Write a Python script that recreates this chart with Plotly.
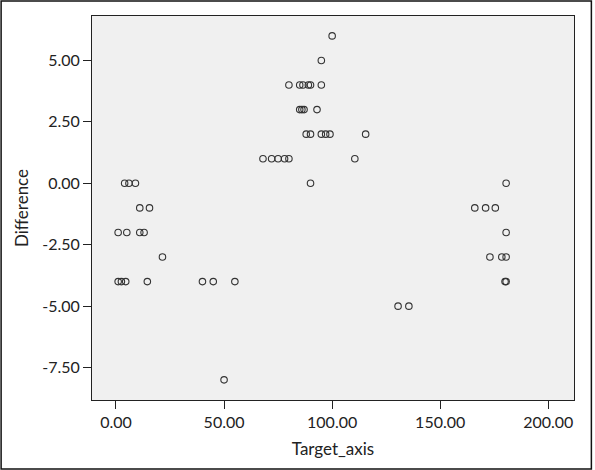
import plotly.graph_objects as go

target_axis = [
    100,
    95,
    80, 85, 86.5, 89, 90, 95,
    85, 86, 87, 93,
    88, 90, 95, 97, 99, 115.5,
    68, 72, 75, 78, 80, 110.5,
    4, 6, 9, 90, 180.5,
    11, 15.5, 166, 171, 175.5,
    1, 5, 11, 13, 180.5,
    21.5, 173, 178.5, 180.5,
    1, 2.5, 4.5, 14.5, 40, 45, 55, 180, 180.5,
    130.5, 135.5,
    50,
]
difference = [
    6,
    5,
    4, 4, 4, 4, 4, 4,
    3, 3, 3, 3,
    2, 2, 2, 2, 2, 2,
    1, 1, 1, 1, 1, 1,
    0, 0, 0, 0, 0,
    -1, -1, -1, -1, -1,
    -2, -2, -2, -2, -2,
    -3, -3, -3, -3,
    -4, -4, -4, -4, -4, -4, -4, -4, -4,
    -5, -5,
    -8,
]

x_ticks = [0, 50, 100, 150, 200]
y_ticks = [-7.5, -5, -2.5, 0, 2.5, 5]

FONT = "Lato, 'Open Sans', sans-serif"

fig = go.Figure()
fig.add_trace(go.Scatter(
    x=target_axis, y=difference, mode="markers",
    marker=dict(symbol="circle-open", size=6.5, color="#333333",
                line=dict(width=1.1, color="#333333")),
    showlegend=False,
))

fig.update_layout(
    width=595, height=470,
    margin=dict(l=92, r=21, t=16, b=70),
    paper_bgcolor="white",
    plot_bgcolor="#f0f0f0",
    font=dict(family=FONT, size=16, color="#222222"),
    xaxis=dict(
        range=[-11.1, 211.9], tickvals=x_ticks,
        ticktext=[f"{v:.2f}" for v in x_ticks],
        ticks="outside", ticklen=8, tickcolor="#222", tickwidth=1,
        showline=True, linecolor="#222", linewidth=1, mirror=True,
        showgrid=False, zeroline=False,
        title=dict(text="Target_axis", standoff=12, font=dict(size=17)),
    ),
    yaxis=dict(
        range=[-8.82, 6.81], tickvals=y_ticks,
        ticktext=[f"{v:.2f}" for v in y_ticks],
        ticks="outside", ticklen=8, tickcolor="#222", tickwidth=1,
        showline=True, linecolor="#222", linewidth=1, mirror=True,
        showgrid=False, zeroline=False,
        title=dict(text="Difference", standoff=9, font=dict(size=17)),
    ),
)

# outer frame around the whole picture
fig.add_shape(type="rect", xref="paper", yref="paper",
              x0=(1 - 92) / 482.6, x1=(592 - 92) / 482.6,
              y0=(400 - 469) / 384, y1=(400 - 1) / 384,
              line=dict(color="#111", width=1.5), fillcolor="rgba(0,0,0,0)",
              layer="above")

fig.write_html("out.html",
               config={"displayModeBar": False},
               post_script="document.body.style.margin='0';")
